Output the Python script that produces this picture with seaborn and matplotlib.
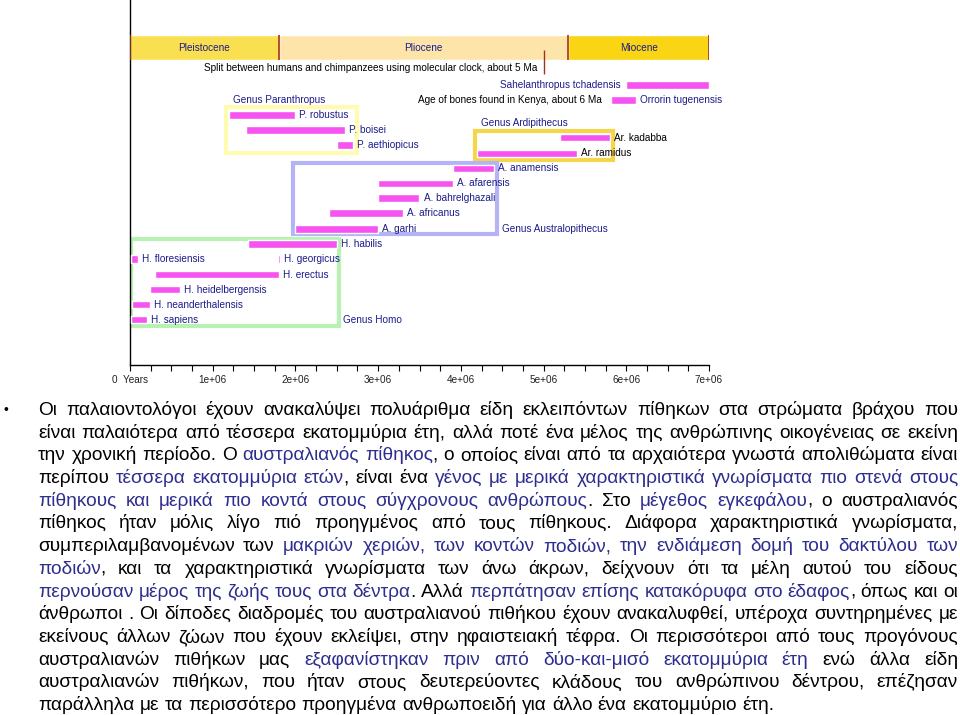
import numpy as np
import pandas as pd
import matplotlib
matplotlib.use("Agg")
import matplotlib.pyplot as plt
from matplotlib.patches import Rectangle
from matplotlib.transforms import IdentityTransform
from matplotlib.font_manager import FontProperties
import seaborn as sns

# Species ranges, millions of years ago
species = ["Sahelanthropus tchadensis", "Orrorin tugenensis", "P. robustus", "P. boisei",
           "Ar. kadabba", "P. aethiopicus", "Ar. ramidus", "A. anamensis", "A. afarensis",
           "A. bahrelghazali", "A. africanus", "A. garhi", "H. habilis", "H. floresiensis",
           "H. georgicus", "H. erectus", "H. heidelbergensis", "H. neanderthalensis", "H. sapiens"]
start_ma = [6.0, 5.82, 1.2, 1.4, 5.2, 2.5, 4.2, 3.9, 3.0, 3.0, 2.4, 2.0, 1.43, 0.01,
            1.79, 0.3, 0.24, 0.02, 0.01]
end_ma = [7.0, 6.12, 2.0, 2.6, 5.8, 2.7, 5.4, 4.4, 3.9, 3.5, 3.3, 3.0, 2.5, 0.1,
          1.81, 1.8, 0.6, 0.24, 0.2]
# row of each species on the chart (layout)
rows = [0, 1, 2, 3, 3.5, 4, 4.55, 5.55, 6.55, 7.55, 8.55, 9.6, 10.6, 11.6,
        11.6, 12.65, 13.65, 14.65, 15.65]

# Geological epochs
epochs = ["Pleistocene", "Pliocene", "Miocene"]
epoch_start = [0.0, 1.8, 5.3]
epoch_end = [1.8, 5.3, 7.0]

# Genus groups: name, x range (Ma), row range
genera = ["Genus Paranthropus", "Genus Ardipithecus", "Genus Australopithecus", "Genus Homo"]
genus_x0 = [1.16, 4.17, 1.97, 0.01]
genus_x1 = [2.74, 5.84, 4.44, 2.53]
genus_r0 = [1.47, 3.07, 5.2, 10.27]
genus_r1 = [4.53, 5.0, 9.93, 16.07]

split_ma = 5.0

tick_years = [0, 1e6, 2e6, 3e6, 4e6, 5e6, 6e6, 7e6]
tick_labels = ["0  Years", "1e+06", "2e+06", "3e+06", "4e+06", "5e+06", "6e+06", "7e+06"]

df = pd.DataFrame({"species": species, "start": np.array(start_ma) * 1e6,
                   "end": np.array(end_ma) * 1e6, "row": rows})

sns.set_theme(style="white")
plt.rcParams["font.family"] = ["Liberation Sans", "DejaVu Sans"]

PINK = "#F653F0"
NAVY = "#1c1c8a"
RED = "#A2321C"
FS = 7.2

fig = plt.figure(figsize=(9.6, 7.15), dpi=100)
ax = fig.add_axes([130 / 960, 1 - 365 / 715, (709 - 130) / 960, 365 / 715])
ax.set_xlim(0, 7e6)
ax.set_ylim(18.667, -5.667)

# genus boxes
box_colors = ["#FFFBB0", "#F7D54A", "#B3B3F5", "#B7F2B2"]
for x0, x1, r0, r1, c in zip(genus_x0, genus_x1, genus_r0, genus_r1, box_colors):
    ax.add_patch(Rectangle((x0 * 1e6, r0), (x1 - x0) * 1e6, r1 - r0, fill=False,
                           edgecolor=c, lw=3.0, zorder=1))

# epochs band
band_colors = ["#FAE050", "#FDE5AA", "#F9D514"]
ax.barh([-2.5] * 3, np.subtract(epoch_end, epoch_start) * 1e6, left=np.array(epoch_start) * 1e6,
        height=1.667, color=band_colors, zorder=2)
ax.vlines(np.array(epoch_start + [epoch_end[-1]]) * 1e6, -3.33, -1.67, color=RED, lw=1.2, zorder=3)
for name, s, e in zip(epochs, epoch_start, epoch_end):
    ax.text((s + e) / 2 * 1e6, -2.5, name, ha="center", va="center", fontsize=FS, color=NAVY, zorder=4)

# split between humans and chimpanzees
ax.vlines(split_ma * 1e6, -2.33, -0.73, color=RED, lw=1.0, zorder=3)
ax.text(4.92e6, -1.13, "Split between humans and chimpanzees using molecular clock, about 5 Ma",
        ha="right", va="center", fontsize=FS, color="black")

# species bars
ax.barh(df["row"], df["end"] - df["start"], left=df["start"], height=0.5, color=PINK, zorder=3)
for sp, s, e, r in zip(df["species"], df["start"], df["end"], df["row"]):
    col = "black" if sp.startswith("Ar.") else NAVY
    if sp.startswith("Sahel"):
        ax.annotate(sp, (s, r), xytext=(-6, 0), textcoords="offset pixels", ha="right",
                    va="center", fontsize=FS, color=col, annotation_clip=False)
    else:
        ax.annotate(sp, (e, r), xytext=(4, 0), textcoords="offset pixels", ha="left",
                    va="center", fontsize=FS, color=col, annotation_clip=False)

ax.text(5.71e6, 1, "Age of bones found in Kenya, about 6 Ma", ha="right", va="center",
        fontsize=FS, color="black")

# genus labels
genus_lx = [1.25, 4.24, 4.5, 2.58]
genus_ly = [1.0, 2.53, 9.6, 15.7]
for g, lx, ly in zip(genera, genus_lx, genus_ly):
    ax.text(lx * 1e6, ly, g, ha="left", va="center", fontsize=FS, color=NAVY)

# axes styling
sns.despine(ax=ax, top=True, right=True)
for sp in ["left", "bottom"]:
    ax.spines[sp].set_color("black")
    ax.spines[sp].set_linewidth(1.0)
ax.set_yticks([])
ax.set_xticks(tick_years)
ax.set_xticklabels(tick_labels, fontsize=FS, color="#222222")
ax.set_xticks(np.arange(0, 7e6 + 1, 0.25e6), minor=True)
ax.tick_params(axis="x", which="both", bottom=True, length=4, width=0.8, color="black", pad=3)
ax.grid(False)

# Greek text paragraph, justified
BLUE = "#2d2d8f"
K = "black"
lines = [
    [("Οι παλαιοντολόγοι έχουν ανακαλύψει  πολυάριθμα είδη εκλειπόντων πίθηκων στα στρώματα βράχου που", K)],
    [("είναι  παλαιότερα από τέσσερα εκατομμύρια έτη, αλλά ποτέ ένα μέλος της ανθρώπινης οικογένειας σε εκείνη", K)],
    [("την χρονική περίοδο. Ο ", K), ("αυστραλιανός πίθηκος", BLUE),
     (",  ο οποίος είναι από τα αρχαιότερα γνωστά απολιθώματα είναι", K)],
    [("περίπου ", K), ("τέσσερα εκατομμύρια ετών", BLUE), (", είναι ένα ", K),
     ("γένος με μερικά χαρακτηριστικά γνωρίσματα πιο στενά στους", BLUE)],
    [("πίθηκους και μερικά πιο κοντά στους σύγχρονους ανθρώπους", BLUE), (". Στο ", K),
     ("μέγεθος εγκεφάλου", BLUE), (", ο αυστραλιανός", K)],
    [("πίθηκος ήταν μόλις λίγο πιό προηγμένος από τους πίθηκους. Διάφορα χαρακτηριστικά γνωρίσματα,", K)],
    [("συμπεριλαμβανομένων των ", K),
     ("μακριών χεριών, των κοντών ποδιών, την ενδιάμεση δομή του δακτύλου των", BLUE)],
    [("ποδιών", BLUE), (", και τα χαρακτηριστικά γνωρίσματα των άνω άκρων, δείχνουν ότι τα μέλη αυτού του είδους", K)],
    [("περνούσαν μέρος της ζωής τους στα δέντρα", BLUE), (". Αλλά ", K),
     ("περπάτησαν επίσης κατακόρυφα στο έδαφος", BLUE), (", όπως και οι", K)],
    [("άνθρωποι . Οι δίποδες διαδρομές του αυστραλιανού πιθήκου έχουν ανακαλυφθεί, υπέροχα συντηρημένες με", K)],
    [("εκείνους άλλων ζώων που έχουν εκλείψει, στην ηφαιστειακή τέφρα. Οι περισσότεροι από τους προγόνους", K)],
    [("αυστραλιανών πιθήκων μας ", K), ("εξαφανίστηκαν πριν από δύο-και-μισό εκατομμύρια έτη", BLUE),
     (" ενώ άλλα είδη", K)],
    [("αυστραλιανών πιθήκων, που ήταν στους δευτερεύοντες κλάδους του ανθρώπινου δέντρου, επέζησαν", K)],
    [("παράλληλα με τα περισσότερο προηγμένα ανθρωποειδή για άλλο ένα εκατομμύριο έτη.", K)],
]

TXT_FS = 13.8
prop = FontProperties(family=["Liberation Sans"], size=TXT_FS)
renderer = fig.canvas.get_renderer()


def width(s):
    w, h, d = renderer.get_text_width_height_descent(s, prop, ismath=False)
    return w


space_w = width("a a") - width("aa")
x_left, x_right = 38, 958
H = 715
for i, segs in enumerate(lines):
    words, cur = [], []
    for txt, col in segs:
        for j, p in enumerate(txt.split(" ")):
            if j > 0 and cur:
                words.append(cur)
                cur = []
            if p:
                cur.append((p, col))
    if cur:
        words.append(cur)
    wlens = [sum(width(p) for p, _ in w) for w in words]
    if i < len(lines) - 1:
        gap = (x_right - x_left - sum(wlens)) / (len(words) - 1)
    else:
        gap = space_w
    base = H - (415 + 22.7 * i)
    x = x_left
    for w, wl in zip(words, wlens):
        xx = x
        for p, col in w:
            fig.text(xx, base, p, transform=IdentityTransform(), fontproperties=prop,
                     color=col, va="baseline", ha="left")
            xx += width(p)
        x += wl + gap

fig.text(6, H - 410, "•", transform=IdentityTransform(), fontsize=10, color="black",
         va="center", ha="center")

fig.savefig("out.png", dpi=100)
